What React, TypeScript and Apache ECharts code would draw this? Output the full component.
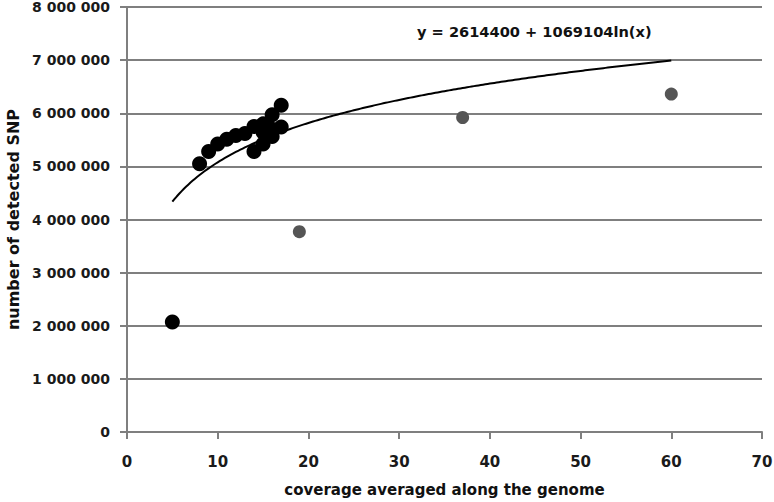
import React, { useEffect, useRef } from "react";
import * as echarts from "echarts";

const xTicks = [0, 10, 20, 30, 40, 50, 60, 70];
const yTicks = [0, 1000000, 2000000, 3000000, 4000000, 5000000, 6000000, 7000000, 8000000];

// black points (coverage, SNP count)
const blackPoints: [number, number][] = [
  [5, 2070000],
  [8, 5050000],
  [9, 5280000],
  [10, 5420000],
  [11, 5510000],
  [12, 5580000],
  [13, 5620000],
  [14, 5280000],
  [14, 5750000],
  [15, 5800000],
  [15, 5420000],
  [15, 5640000],
  [16, 5560000],
  [16, 5700000],
  [16, 5970000],
  [17, 6150000],
  [17, 5740000],
];

// grey points
const greyPoints: [number, number][] = [
  [19, 3770000],
  [37, 5920000],
  [60, 6360000],
];

// logarithmic trend line y = a + b ln(x)
const trendA = 2614400;
const trendB = 1069104;
const trendRange = [5, 60];
const trendLabel = "y = 2614400 + 1069104ln(x)";

const xName = "coverage averaged along the genome";
const yName = "number of detected SNP";

function fmt(v: number): string {
  return String(v).replace(/\B(?=(\d{3})+(?!\d))/g, " ");
}

export default function App() {
  const ref = useRef<HTMLDivElement>(null);
  useEffect(() => {
    if (!ref.current) return;
    const chart = echarts.init(ref.current, null, { renderer: "svg" });
    const trend: [number, number][] = [];
    for (let x = trendRange[0]; x <= trendRange[1] + 1e-9; x += 0.25) {
      trend.push([x, trendA + trendB * Math.log(x)]);
    }
    const font = "'DejaVu Sans', sans-serif";
    chart.setOption({
      animation: false,
      backgroundColor: "#ffffff",
      grid: { left: 127, right: 12, top: 7, bottom: 70, containLabel: false, outerBoundsMode: "none" },
      xAxis: {
        type: "value",
        min: xTicks[0],
        max: xTicks[xTicks.length - 1],
        interval: 10,
        name: xName,
        nameLocation: "middle",
        nameGap: 50,
        nameTextStyle: { fontFamily: font, fontWeight: "bold", fontSize: 15, color: "#111" },
        axisLine: { show: true, lineStyle: { color: "#7f7f7f", width: 2 } },
        axisTick: { show: true, length: 7, lineStyle: { color: "#7f7f7f", width: 2 } },
        axisLabel: { fontFamily: font, fontWeight: "bold", fontSize: 15, color: "#1a1a1a", margin: 22 },
        splitLine: { show: false },
      },
      yAxis: {
        type: "value",
        min: yTicks[0],
        max: yTicks[yTicks.length - 1],
        interval: 1000000,
        name: yName,
        nameLocation: "middle",
        nameGap: 105,
        nameRotate: 90,
        nameTextStyle: { fontFamily: font, fontWeight: "bold", fontSize: 16, color: "#111" },
        axisLine: { show: true, onZero: false, lineStyle: { color: "#7f7f7f", width: 2 } },
        axisTick: { show: true, length: 7, lineStyle: { color: "#7f7f7f", width: 2 } },
        axisLabel: {
          fontFamily: font,
          fontWeight: "bold",
          fontSize: 14,
          color: "#1a1a1a",
          margin: 17,
          formatter: (v: number) => fmt(v),
        },
        splitLine: { show: true, lineStyle: { color: "#7f7f7f", width: 2 } },
      },
      graphic: [
        {
          type: "text",
          left: 417,
          top: 24,
          style: {
            text: trendLabel,
            fontFamily: font,
            fontWeight: "bold",
            fontSize: 14.6,
            fill: "#111",
          },
        },
      ],
      series: [
        {
          type: "line",
          data: trend,
          showSymbol: false,
          symbol: "none",
          smooth: false,
          lineStyle: { color: "#000", width: 2 },
          z: 2,
        },
        {
          type: "scatter",
          data: greyPoints,
          symbol: "circle",
          symbolSize: 13,
          itemStyle: { color: "#555555", opacity: 1 },
          z: 3,
        },
        {
          type: "scatter",
          data: blackPoints,
          symbol: "circle",
          symbolSize: 15,
          itemStyle: { color: "#000", opacity: 1 },
          z: 4,
        },
      ],
    });
    return () => chart.dispose();
  }, []);
  return <div ref={ref} style={{ width: 774, height: 502, position: "absolute", left: 0, top: 0 }} />;
}
